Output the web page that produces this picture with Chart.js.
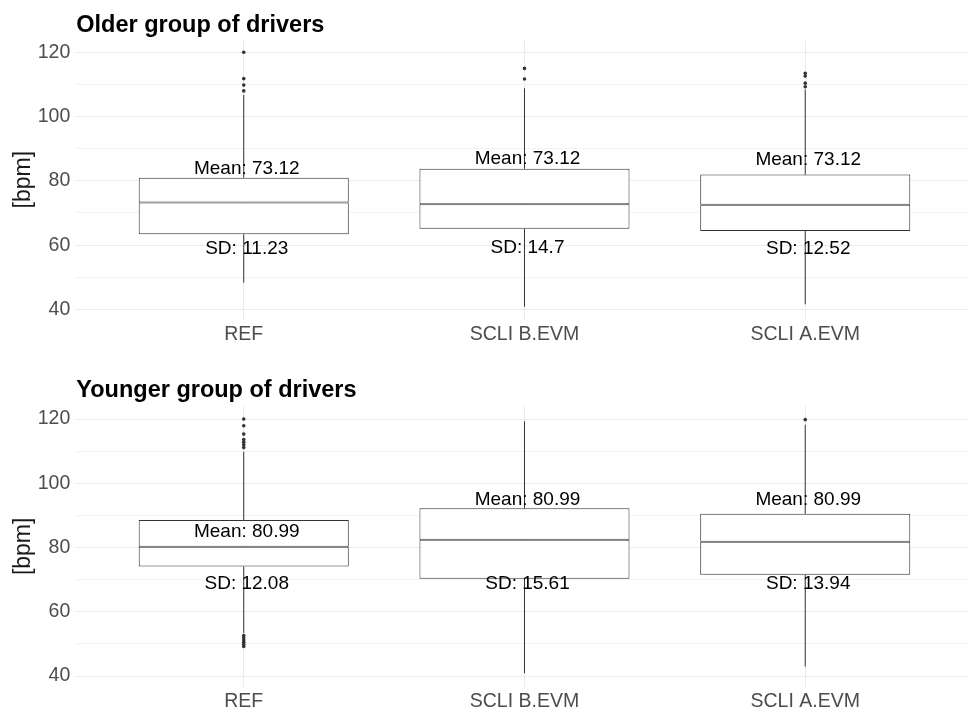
<!DOCTYPE html>
<html>
<head>
<meta charset="utf-8">
<script src="https://cdn.jsdelivr.net/npm/chart.js@4"></script>
<style>
  body { margin: 0; background: #fff; overflow: hidden; }
  canvas { display: block; }
</style>
</head>
<body>
<canvas id="older" width="972" height="356"></canvas>
<canvas id="younger" width="972" height="356"></canvas>
<script>
// categories and tick labels
var categories = ['REF', 'SCLI B.EVM', 'SCLI A.EVM'];
var yTicks = [40, 50, 60, 70, 80, 90, 100, 110, 120];

// older group of drivers
var olderLow = [48.3, 40.8, 41.6];
var olderQ1 = [63.4, 65.1, 64.4];
var olderMedian = [73.3, 72.7, 72.6];
var olderQ3 = [81.0, 83.8, 82.0];
var olderHigh = [106.7, 108.8, 108.4];
var olderOutliers = [[120, 111.8, 109.8, 108.0], [115.0, 111.7], [113.5, 112.6, 110.4, 109.3]];
var olderMean = ['Mean: 73.12', 'Mean: 73.12', 'Mean: 73.12'];
var olderSd = ['SD: 11.23', 'SD: 14.7', 'SD: 12.52'];
var olderMeanAt = [83.9, 86.8, 86.7];
var olderSdAt = [58.8, 59.2, 58.8];

// younger group of drivers
var youngerLow = [53.3, 40.9, 43.0];
var youngerQ1 = [74.1, 70.3, 71.5];
var youngerMedian = [80.25, 82.4, 81.8];
var youngerQ3 = [88.6, 92.2, 90.55];
var youngerHigh = [109.8, 119.3, 118.2];
var youngerOutliers = [[120, 117.9, 115.3, 113.6, 112.8, 112.0, 111.1, 52.6, 51.9, 51.2, 50.5, 49.8, 49.2], [], [119.8]];
var youngerMean = ['Mean: 80.99', 'Mean: 80.99', 'Mean: 80.99'];
var youngerSd = ['SD: 12.08', 'SD: 15.61', 'SD: 13.94'];
var youngerMeanAt = [84.9, 94.8, 94.8];
var youngerSdAt = [68.8, 68.6, 68.6];

var FONT = '"Liberation Sans", Arial, sans-serif';
var LINE = '#333';

// titles and Mean/SD texts
var boxLabels = {
  id: 'boxLabels',
  afterDatasetsDraw: function (chart, args, opts) {
    var ctx = chart.ctx, x = chart.scales.x, y = chart.scales.y;
    ctx.save();
    ctx.fillStyle = '#000';
    ctx.font = '19px ' + FONT;
    ctx.textAlign = 'center';
    ctx.textBaseline = 'middle';
    opts.mean.forEach(function (t, i) {
      ctx.fillText(t, x.getPixelForValue(i + 1) + 3, y.getPixelForValue(opts.meanAt[i]));
    });
    opts.sd.forEach(function (t, i) {
      ctx.fillText(t, x.getPixelForValue(i + 1) + 3, y.getPixelForValue(opts.sdAt[i]));
    });
    ctx.font = 'bold 23.5px ' + FONT;
    ctx.textAlign = 'left';
    ctx.textBaseline = 'alphabetic';
    ctx.fillText(opts.title, chart.chartArea.left + 1, opts.titleY);
    ctx.restore();
  }
};

function boxChart(id, g) {
  var lower = [], upper = [], whiskLo = [], whiskHi = [], pts = [];
  for (var i = 0; i < categories.length; i++) {
    lower.push({ x: i + 1, y: [g.q1[i], g.median[i]] });
    upper.push({ x: i + 1, y: [g.median[i], g.q3[i]] });
    whiskLo.push({ x: i + 1, y: [g.low[i], g.q1[i]] });
    whiskHi.push({ x: i + 1, y: [g.q3[i], g.high[i]] });
    g.outliers[i].forEach(function (v) { pts.push({ x: i + 1, y: v }); });
  }
  var boxStyle = {
    backgroundColor: '#fff', borderColor: LINE, borderWidth: 1, borderSkipped: false,
    grouped: false, categoryPercentage: 1, barPercentage: 211 / 282, inflateAmount: 0, order: 1
  };
  var whiskStyle = {
    backgroundColor: LINE, borderWidth: 0, grouped: false, barThickness: 1, inflateAmount: 0, order: 2
  };
  return new Chart(document.getElementById(id), {
    type: 'bar',
    data: {
      datasets: [
        Object.assign({ data: lower }, boxStyle),
        Object.assign({ data: upper }, boxStyle),
        Object.assign({ data: whiskLo }, whiskStyle),
        Object.assign({ data: whiskHi }, whiskStyle),
        { type: 'scatter', data: pts, pointRadius: 1.8, backgroundColor: '#333',
          borderWidth: 0, order: 0 }
      ]
    },
    options: {
      responsive: false,
      animation: false,
      layout: { padding: { top: g.padTop, left: 0, right: 0, bottom: 0 } },
      plugins: {
        legend: { display: false },
        tooltip: { enabled: false },
        boxLabels: { title: g.title, titleY: g.titleY, mean: g.mean, sd: g.sd, meanAt: g.meanAt, sdAt: g.sdAt }
      },
      scales: {
        x: {
          type: 'linear', min: 0.4, max: 3.5798, offset: false,
          afterBuildTicks: function (s) { s.ticks = [{ value: 1 }, { value: 2 }, { value: 3 }]; },
          afterFit: function (s) { s.height = g.xHeight; },
          grid: { offset: false, color: '#ebebeb', drawTicks: false },
          border: { display: false },
          ticks: {
            padding: 3, color: '#4d4d4d', font: { family: FONT, size: 19.5 },
            callback: function (v) { return categories[v - 1]; }
          }
        },
        y: {
          min: 36.7, max: 124.05,
          afterBuildTicks: function (s) { s.ticks = yTicks.map(function (v) { return { value: v }; }); },
          afterFit: function (s) { s.width = 75.3; },
          grid: {
            drawTicks: false,
            color: function (c) { return c.tick && c.tick.value % 20 === 0 ? '#ebebeb' : '#f3f3f3'; }
          },
          border: { display: false },
          title: { display: true, text: '[bpm]', color: '#1a1a1a', font: { family: FONT, size: 23 }, padding: { top: 10, bottom: 0 } },
          ticks: {
            padding: 5, color: '#4d4d4d', font: { family: FONT, size: 19.5 },
            callback: function (v) { return v % 20 === 0 ? v : ''; }
          }
        }
      }
    },
    plugins: [boxLabels]
  });
}

boxChart('older', {
  title: 'Older group of drivers', titleY: 31.5, padTop: 39.3, xHeight: 36,
  low: olderLow, q1: olderQ1, median: olderMedian, q3: olderQ3, high: olderHigh,
  outliers: olderOutliers, mean: olderMean, sd: olderSd, meanAt: olderMeanAt, sdAt: olderSdAt
});
boxChart('younger', {
  title: 'Younger group of drivers', titleY: 40.7, padTop: 50, xHeight: 25.3,
  low: youngerLow, q1: youngerQ1, median: youngerMedian, q3: youngerQ3, high: youngerHigh,
  outliers: youngerOutliers, mean: youngerMean, sd: youngerSd, meanAt: youngerMeanAt, sdAt: youngerSdAt
});
</script>
</body>
</html>
